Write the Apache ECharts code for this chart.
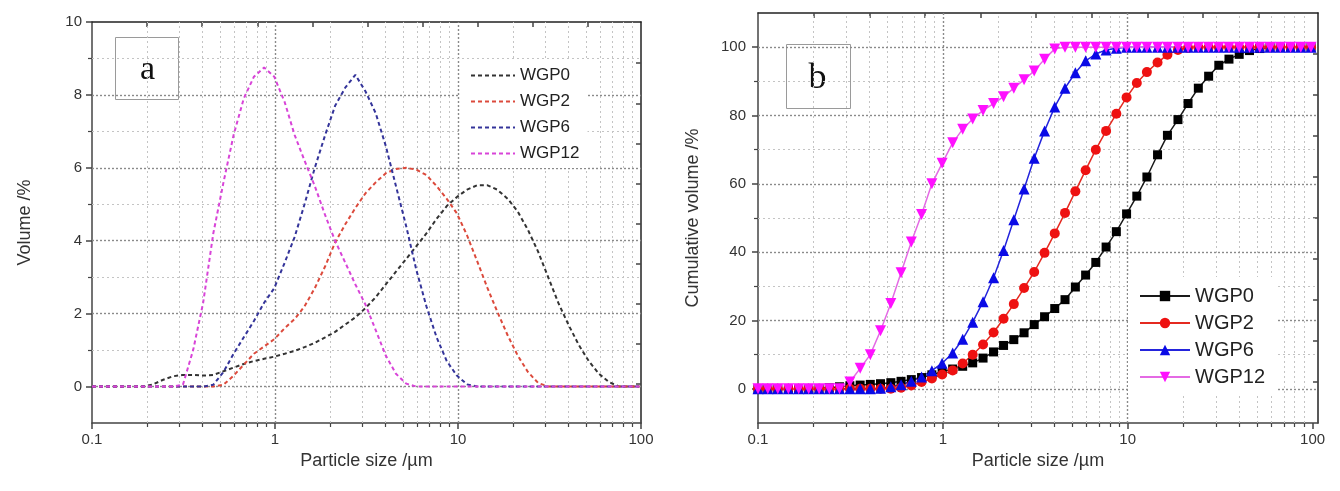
<!DOCTYPE html>
<html><head><meta charset="utf-8">
<script src="https://cdn.jsdelivr.net/npm/echarts@6/dist/echarts.min.js"></script>
<style>html,body{margin:0;padding:0;background:#fff}#c{width:1340px;height:491px}</style>
</head><body><div id="c"></div>
<script>
// ---------- data ----------
const sizes = [0.1, 0.113, 0.128, 0.146, 0.166, 0.188, 0.214, 0.243, 0.276, 0.314, 0.357, 0.405, 0.46, 0.523, 0.594, 0.675, 0.767, 0.872, 0.991, 1.13, 1.28, 1.45, 1.65, 1.88, 2.13, 2.42, 2.75, 3.12, 3.55, 4.03, 4.58, 5.21, 5.92, 6.72, 7.64, 8.68, 9.86, 11.2, 12.7, 14.5, 16.4, 18.7, 21.2, 24.1, 27.4, 31.1, 35.3, 40.1, 45.6, 51.8, 58.9, 66.9, 76, 86.4, 98.1];
const seriesNames = ['WGP0', 'WGP2', 'WGP6', 'WGP12'];

// panel a: volume /%
const volWGP0 = [0,0,0,0,0,0,0.05,0.18,0.28,0.32,0.32,0.3,0.32,0.42,0.52,0.62,0.7,0.76,0.82,0.9,0.98,1.08,1.2,1.35,1.5,1.7,1.9,2.15,2.45,2.8,3.15,3.5,3.85,4.2,4.6,4.95,5.2,5.4,5.52,5.52,5.4,5.15,4.8,4.3,3.7,3.0,2.3,1.7,1.15,0.7,0.35,0.12,0,0,0];
const volWGP2 = [0,0,0,0,0,0,0,0,0,0,0,0,0,0.05,0.3,0.6,0.9,1.1,1.3,1.6,1.85,2.2,2.7,3.3,3.95,4.45,4.9,5.3,5.6,5.85,5.97,6.0,5.95,5.8,5.5,5.15,4.75,4.15,3.45,2.7,2.05,1.4,0.85,0.4,0.1,0,0,0,0,0,0,0,0,0,0];
const volWGP6 = [0,0,0,0,0,0,0,0,0,0,0,0,0.05,0.4,0.9,1.35,1.8,2.3,2.7,3.4,4.1,5.0,6.0,6.9,7.7,8.2,8.55,8.1,7.5,6.6,5.5,4.4,3.2,2.2,1.35,0.7,0.3,0.06,0,0,0,0,0,0,0,0,0,0,0,0,0,0,0,0,0];
const volWGP12 = [0,0,0,0,0,0,0,0,0,0.05,1.0,2.3,4.2,5.6,6.9,7.9,8.5,8.75,8.5,7.8,6.9,6.2,5.5,4.7,4.0,3.4,2.8,2.25,1.55,0.85,0.35,0.08,0,0,0,0,0,0,0,0,0,0,0,0,0,0,0,0,0,0,0,0,0,0,0];

// panel b: cumulative volume /%
const cumWGP0 = [0,0,0,0,0,0,0.1,0.3,0.6,0.9,1.1,1.3,1.5,1.8,2.2,2.7,3.3,4.1,5.0,5.8,6.6,7.6,9.0,10.8,12.7,14.4,16.4,18.8,21.1,23.5,26.1,29.8,33.3,37,41.5,46,51.2,56.4,62,68.5,74.2,78.8,83.5,88,91.5,94.7,96.5,97.9,99,99.6,100,100,100,100,100];
const cumWGP2 = [0,0,0,0,0,0,0,0,0,0,0,0,0,0,0.3,1.0,2.0,3.0,4.2,5.4,7.4,10,13,16.5,20.5,24.8,29.5,34.2,39.8,45.5,51.5,57.8,64,70,75.5,80.5,85.3,89.5,92.7,95.5,97.8,99.2,99.8,100,100,100,100,100,100,100,100,100,100,100,100];
const cumWGP6 = [0,0,0,0,0,0,0,0,0,0,0,0,0.2,0.6,1.2,2.2,3.5,5.3,7.5,10.5,14.5,19.5,25.5,32.5,40.5,49.5,58.5,67.5,75.5,82.5,88,92.5,96,98,99.2,99.7,100,100,100,100,100,100,100,100,100,100,100,100,100,100,100,100,100,100,100];
const cumWGP12 = [0,0,0,0,0,0,0,0,0,2,6,10,17,25,34,43,51,60,66,72,76,79,81.5,83.5,85.5,88,90.5,93,96.5,99.5,100,100,100,100,100,100,100,100,100,100,100,100,100,100,100,100,100,100,100,100,100,100,100,100,100];

// ticks
const xMajor = [0.1, 1, 10, 100];
const xMinor = [0.2,0.3,0.4,0.5,0.6,0.7,0.8,0.9,2,3,4,5,6,7,8,9,20,30,40,50,60,70,80,90];
const xTop = [0.2, 0.4, 0.8, 1.6, 3.2, 6.4, 12.8, 25.6, 51.2];
const yMajorA = [0, 2, 4, 6, 8, 10];
const yMinorA = [1, 3, 5, 7, 9];
const yRightA = [0.07, 1.17, 2.27, 3.37, 4.47, 5.57, 6.67, 7.77, 8.87];
const yMajorB = [0, 20, 40, 60, 80, 100];
const yMinorB = [10, 30, 50, 70, 90];
const yRightB = [2, 14, 26, 38, 50, 62, 74, 86, 98];

// ---------- chart ----------
const FONT = '"Liberation Sans", Arial, sans-serif';
const AX = '#444';
const volData = [volWGP0, volWGP2, volWGP6, volWGP12];
const cumData = [cumWGP0, cumWGP2, cumWGP6, cumWGP12];
const colA = ['#333333', '#dc4a3c', '#34349a', '#d844d8'];
const colBLine = ['#1a1a1a', '#e42a20', '#2424dc', '#e46ae4'];
const colBSym = ['#000000', '#ee1111', '#0a0ae6', '#ff10ff'];
const symB = ['rect', 'circle', 'triangle', 'path://M0,0L10,0L5,8.66Z'];
const symSizeB = [9, 10, 11, 11];

const fmt = v => String(+(+v).toPrecision(3));

function xAxes(g, min, max) {
  return [
    { type: 'log', gridIndex: g, min, max, position: 'bottom',
      axisLine: { show: true, onZero: false, lineStyle: { color: AX, width: 1.5 } },
      axisTick: { show: true, customValues: xMajor, length: 6, lineStyle: { color: AX, width: 1.5 } },
      axisLabel: { customValues: xMajor, formatter: fmt, fontSize: 15, color: '#333', margin: 9, fontFamily: FONT },
      splitLine: { show: false },
      name: 'Particle size /µm', nameLocation: 'middle', nameGap: 14,
      nameTextStyle: { fontSize: 18, color: '#333', fontFamily: FONT } },
    { type: 'log', gridIndex: g, min, max, position: 'bottom',
      axisLine: { show: false, onZero: false },
      axisTick: { show: true, customValues: xMinor, length: 4, lineStyle: { color: AX, width: 1.2 } },
      axisLabel: { show: false }, splitLine: { show: false } },
    { type: 'log', gridIndex: g, min, max, position: 'top',
      axisLine: { show: true, onZero: false, lineStyle: { color: '#222', width: 1.5 } },
      axisTick: { show: true, inside: true, customValues: xTop, length: 5, lineStyle: { color: AX, width: 1.5 } },
      axisLabel: { show: false }, splitLine: { show: false } }
  ];
}
function yAxes(g, min, max, major, minor, right, name, gap, margin) {
  return [
    { type: 'value', gridIndex: g, min, max, position: 'left',
      axisLine: { show: true, onZero: false, lineStyle: { color: AX, width: 1.5 } },
      axisTick: { show: true, customValues: major, length: 6, lineStyle: { color: AX, width: 1.5 } },
      axisLabel: { customValues: major, fontSize: 15, color: '#333', margin, fontFamily: FONT },
      splitLine: { show: false },
      name, nameLocation: 'middle', nameGap: gap,
      nameTextStyle: { fontSize: 18, color: '#333', fontFamily: FONT } },
    { type: 'value', gridIndex: g, min, max, position: 'left',
      axisLine: { show: false, onZero: false },
      axisTick: { show: true, customValues: minor, length: 4, lineStyle: { color: AX, width: 1.2 } },
      axisLabel: { show: false }, splitLine: { show: false } },
    { type: 'value', gridIndex: g, min, max, position: 'right',
      axisLine: { show: true, onZero: false, lineStyle: { color: '#222', width: 1.5 } },
      axisTick: { show: true, inside: true, customValues: right, length: 5, lineStyle: { color: AX, width: 1.5 } },
      axisLabel: { show: false }, splitLine: { show: false } }
  ];
}
function gridLines(xi, yi, yMaj, yMin) {
  const minorStyle = { color: '#c4c4c4', type: [2, 3], width: 1 };
  const majorStyle = { color: '#8a8a8a', type: [2, 2], width: 1.4 };
  const d = [];
  xMinor.forEach(v => d.push({ xAxis: v, lineStyle: minorStyle }));
  [1, 10].forEach(v => d.push({ xAxis: v, lineStyle: majorStyle }));
  yMin.forEach(v => d.push({ yAxis: v, lineStyle: minorStyle }));
  yMaj.forEach(v => d.push({ yAxis: v, lineStyle: majorStyle }));
  return { type: 'line', xAxisIndex: xi, yAxisIndex: yi, data: [], z: 1, silent: true,
    markLine: { z: 1, silent: true, symbol: 'none', animation: false, label: { show: false }, data: d } };
}

const series = [
  gridLines(0, 0, yMajorA.slice(0, 5), yMinorA),
  gridLines(3, 3, yMajorB, yMinorB)
];
seriesNames.forEach((n, i) => series.push({
  type: 'line', name: n, xAxisIndex: 0, yAxisIndex: 0, z: 3,
  data: sizes.map((s, j) => [s, volData[i][j]]),
  symbol: 'none', showSymbol: false, animation: false,
  lineStyle: { color: colA[i], width: 2, type: [4, 3] }, itemStyle: { color: colA[i] }
}));
seriesNames.forEach((n, i) => series.push({
  type: 'line', name: 'b-' + n, xAxisIndex: 3, yAxisIndex: 3, z: 3,
  data: sizes.map((s, j) => [s, cumData[i][j]]),
  symbol: symB[i], symbolSize: symSizeB[i], showSymbol: true, animation: false,
  lineStyle: { color: colBLine[i], width: 1.5 }, itemStyle: { color: colBSym[i], borderWidth: 0 }
}));

const option = {
  backgroundColor: '#fff',
  animation: false,
  grid: [
    { left: 92, right: 699, top: 22, bottom: 68 },
    { left: 758, right: 22, top: 13, bottom: 68 }
  ],
  xAxis: [...xAxes(0, 0.1, 100), ...xAxes(1, 0.1, 107)],
  yAxis: [
    ...yAxes(0, -1, 10, yMajorA, yMinorA, yRightA, 'Volume /%', 58, 10),
    ...yAxes(1, -10, 110, yMajorB, yMinorB, yRightB, 'Cumulative volume /%', 56, 12)
  ],
  legend: [
    { orient: 'vertical', left: 460, top: 60, itemWidth: 44, itemHeight: 12, itemGap: 9, z: 6,
      padding: [7, 8, 6, 10], backgroundColor: '#fff',
      itemStyle: { opacity: 0, borderWidth: 0 },
      data: seriesNames, textStyle: { fontSize: 17, color: '#222', fontFamily: FONT }, selectedMode: false },
    { orient: 'vertical', left: 1128, top: 277, itemWidth: 50, itemHeight: 13, itemGap: 7, z: 6,
      padding: [9, 12, 9, 11], backgroundColor: '#fff',
      data: seriesNames.map(n => 'b-' + n), formatter: n => n.slice(2),
      itemStyle: { borderWidth: 0 },
      textStyle: { fontSize: 20, color: '#222', fontFamily: FONT }, selectedMode: false }
  ],
  graphic: [
    { type: 'group', left: 113, top: 35, children: [
      { type: 'rect', shape: { x: 0, y: 0, width: 63, height: 62 }, style: { fill: 'none', stroke: '#9a9a9a', lineWidth: 1 } },
      { type: 'text', x: 32, y: 33, style: { text: 'a', font: '34px "Liberation Serif", serif', fill: '#111', align: 'center', verticalAlign: 'middle' } }
    ] },
    { type: 'group', left: 784, top: 42, children: [
      { type: 'rect', shape: { x: 0, y: 0, width: 64, height: 64 }, style: { fill: 'none', stroke: '#9a9a9a', lineWidth: 1 } },
      { type: 'text', x: 31, y: 34, style: { text: 'b', font: '36px "Liberation Serif", serif', fill: '#111', align: 'center', verticalAlign: 'middle' } }
    ] }
  ],
  series
};
const chart = echarts.init(document.getElementById('c'), null, { renderer: 'canvas' });
chart.setOption(option);
</script></body></html>
